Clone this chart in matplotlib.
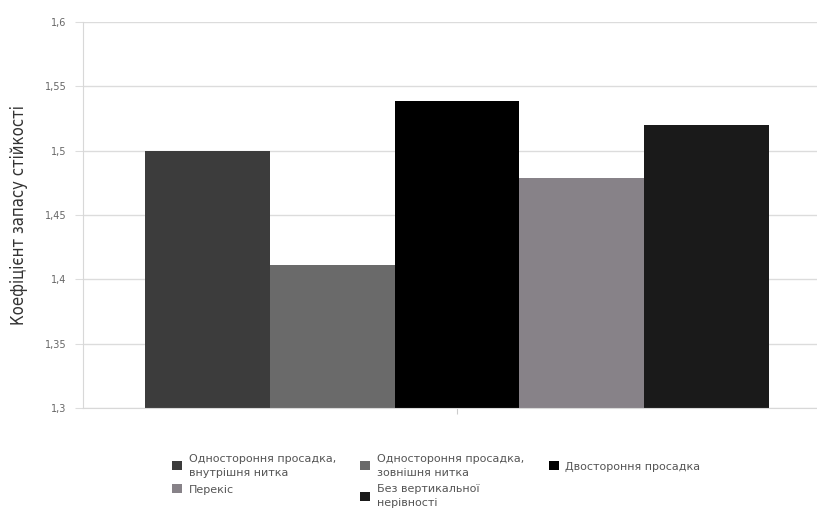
import numpy as np
import matplotlib
matplotlib.use('Agg')
import matplotlib.pyplot as plt

# Stability margin coefficient for different rail irregularity cases
labels = ['Одностороння просадка,\nвнутрішня нитка',
          'Одностороння просадка,\nзовнішня нитка',
          'Двостороння просадка',
          'Перекіс',
          'Без вертикальної\nнерівності']
values = [1.50, 1.411, 1.539, 1.479, 1.520]
colors = ['#3c3c3c', '#6a6a6a', '#000000', '#878288', '#1a1a1a']
yticks = [1.3, 1.35, 1.4, 1.45, 1.5, 1.55, 1.6]
ytick_labels = ['1,3', '1,35', '1,4', '1,45', '1,5', '1,55', '1,6']

fig = plt.figure(figsize=(8.17, 5.15), dpi=100)
ax = fig.add_axes([0.1016, 0.208, 0.8984, 0.749])

x = np.arange(len(values))
bars = ax.bar(x, np.array(values) - 1.3, bottom=1.3, width=1.0,
              color=colors, edgecolor='none', zorder=2)

ax.set_ylim(1.3, 1.6)
ax.set_xlim(-0.997, 4.885)
ax.set_yticks(yticks)
ax.set_yticklabels(ytick_labels)
ax.set_xticks([2])
ax.set_xticklabels([''])
ax.tick_params(axis='x', length=4, color='#cccccc')
ax.tick_params(axis='y', length=6, color='#dddddd', labelsize=7,
               labelcolor='#666666', pad=6)
ax.yaxis.grid(True, color='#dcdcdc', linewidth=1, zorder=0)

for side in ['top', 'right']:
    ax.spines[side].set_visible(False)
for side in ['left', 'bottom']:
    ax.spines[side].set_color('#d8d8d8')

ax.set_ylabel('Коефіцієнт запасу стійкості', fontsize=12,
              fontstretch='condensed', color='#333333', labelpad=12)

# legend laid out in three columns (filled column by column)
order = [0, 3, 1, 4, 2]
leg = fig.legend([bars[i] for i in order], [labels[i] for i in order],
                 loc='upper left', bbox_to_anchor=(0.205, 0.128), ncol=3,
                 frameon=False, fontsize=8, handlelength=0.9,
                 handleheight=0.9, handletextpad=0.6, columnspacing=2.2,
                 labelspacing=0.6, borderaxespad=0)
for t in leg.get_texts():
    t.set_color('#555555')
    t.set_linespacing(1.5)

fig.savefig('out.png', dpi=100)
